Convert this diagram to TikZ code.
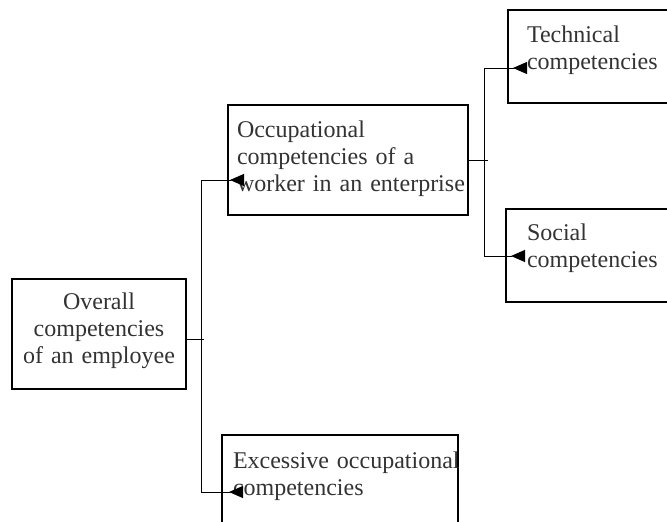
\documentclass[tikz,border=0pt]{standalone}
\usepackage{fontspec}
\setmainfont{Liberation Serif}
\usetikzlibrary{arrows.meta}

\begin{document}
\begin{tikzpicture}[x=0.75pt, y=-0.75pt,
    box/.style = {draw, line width=0.9pt, align=left, inner ysep=0pt,
        text=black!80, font=\fontsize{18}{20.6}\selectfont},
    link/.style = {line width=0.7pt, -{Triangle[reversed,length=10.5pt,width=9pt]}}]
    \useasboundingbox (0,0) rectangle (667,521);

    \node[box, align=center, inner xsep=0pt, text width=130.5pt,
        text height=22.5pt, text depth=60pt] (ovr) at (99,334)
        {Overall\\competencies\\\mbox{of an employee}};
    \node[box, inner xsep=6.75pt, text width=166.5pt,
        text height=24pt, text depth=58.5pt] (occ) at (348,160)
        {Occupational\\\mbox{competencies of a}\\\mbox{worker in an enterprise}};
    \node[box, inner xsep=14.25pt, text width=108pt,
        text height=24pt, text depth=45.75pt] (tech) at (599,56.5)
        {Technical\\competencies};
    \node[box, inner xsep=15.75pt, text width=106.5pt,
        text height=23.25pt, text depth=46.5pt] (soc) at (598,255.5)
        {Social\\competencies};
    \node[box, inner xsep=8.25pt, text width=160.5pt,
        text height=24.75pt, text depth=69pt] (exc) at (340,497.5)
        {\mbox{Excessive occupational}\\competencies};

    % junctions and arrow ends
    \coordinate (jl) at (201,339);
    \coordinate (jr) at (484,160);
    \coordinate (occin) at (244,180);
    \coordinate (excin) at (243,492);
    \coordinate (techin) at (527,68);
    \coordinate (socin) at (525,256);

    \draw[line width=0.7pt] (ovr.east |- jl) -- ++(17,0);
    \draw[link] (jl) |- (occin);
    \draw[link] (jl) |- (excin);

    \draw[line width=0.7pt] (occ.east) -- ++(19,0);
    \draw[link] (jr) |- (techin);
    \draw[link] (jr) |- (socin);
\end{tikzpicture}
\end{document}
